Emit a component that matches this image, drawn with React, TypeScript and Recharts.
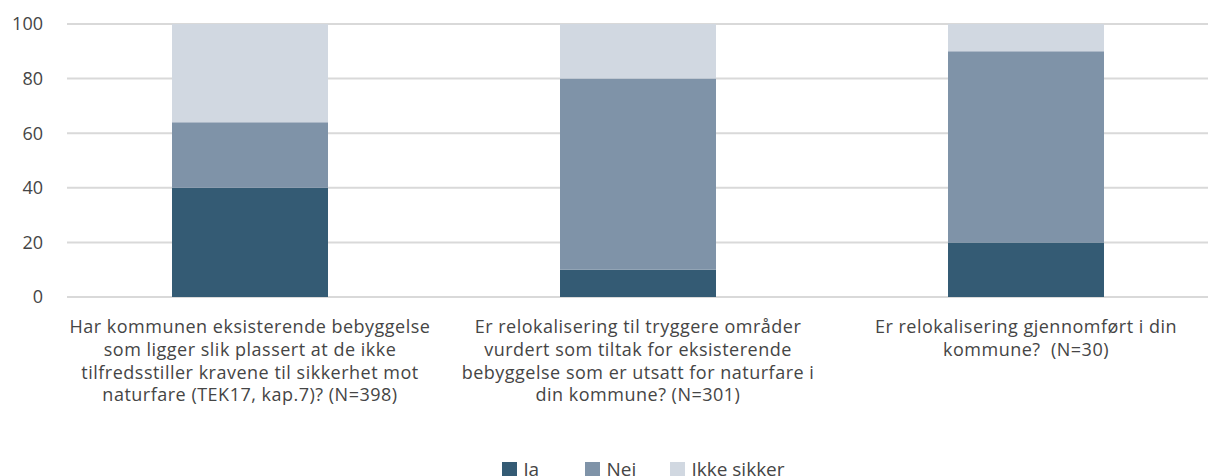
import { BarChart, Bar, XAxis, YAxis, CartesianGrid, Legend } from 'recharts'

const categories = [
  'Har kommunen eksisterende bebyggelse\nsom ligger slik plassert at de ikke\ntilfredsstiller kravene til sikkerhet mot\nnaturfare (TEK17, kap.7)? (N=398)',
  'Er relokalisering til tryggere områder\nvurdert som tiltak for eksisterende\nbebyggelse som er utsatt for naturfare i\ndin kommune? (N=301)',
  'Er relokalisering gjennomført i din\nkommune?  (N=30)',
]
const ja = [40, 10, 20]
const nei = [24, 70, 70]
const ikkeSikker = [36, 20, 10]
const yTicks = [0, 20, 40, 60, 80, 100]

const series = [
  { key: 'ja', name: 'Ja', color: '#345B74' },
  { key: 'nei', name: 'Nei', color: '#7F93A8' },
  { key: 'ikke', name: 'Ikke sikker', color: '#D1D8E1' },
]

const data = categories.map((c, i) => ({
  category: c,
  ja: ja[i],
  nei: nei[i],
  ikke: ikkeSikker[i],
}))

const FONT = '"Open Sans", sans-serif'
const TEXT = '#454545'

function CategoryTick(props: any) {
  const { x, y, payload } = props
  const lines: string[] = String(payload.value).split('\n')
  return (
    <text x={x} y={y} textAnchor="middle" fill={TEXT} fontSize={18} fontFamily={FONT} letterSpacing={0.5}>
      {lines.map((l, i) => (
        <tspan key={i} x={x} dy={i === 0 ? 28 : 22.8} style={{ whiteSpace: 'pre' }}>
          {l}
        </tspan>
      ))}
    </text>
  )
}

function LegendContent() {
  return (
    <div style={{ display: 'flex', justifyContent: 'center', fontFamily: FONT, fontSize: 19, color: TEXT, height: 24, lineHeight: '24px' }}>
      {series.map((s, i) => (
        <div key={s.key} style={{ display: 'flex', alignItems: 'center', width: i === 0 ? 83 : i === 1 ? 85 : undefined }}>
          <span style={{ display: 'inline-block', width: 15, height: 15, background: s.color, marginRight: 6 }} />
          <span>{s.name}</span>
        </div>
      ))}
    </div>
  )
}

export default function App() {
  return (
    <div style={{ position: 'absolute', left: 0, top: 0, width: 1208, height: 476, overflow: 'hidden' }}>
      <BarChart width={1220} height={476} data={data} margin={{ top: 24, right: 0, left: 0, bottom: 0 }} barSize={156}>
        <CartesianGrid vertical={false} stroke="#D9D9D9" strokeWidth={2} />
        <XAxis
          dataKey="category"
          axisLine={false}
          tickLine={false}
          height={155}
          interval={0}
          padding={{ left: -11, right: 0 }}
          tick={<CategoryTick />}
        />
        <YAxis
          domain={[0, 100]}
          ticks={yTicks}
          width={67}
          axisLine={false}
          tickLine={false}
          tickSize={0}
          tickMargin={24}
          tick={{ fontSize: 18, fill: TEXT, fontFamily: FONT }}
        />
        <Legend verticalAlign="bottom" wrapperStyle={{ height: 24, left: 67, width: 1153, bottom: -5 }} content={<LegendContent />} />
        {series.map((s) => (
          <Bar key={s.key} dataKey={s.key} name={s.name} stackId="a" fill={s.color} isAnimationActive={false} />
        ))}
      </BarChart>
    </div>
  )
}
